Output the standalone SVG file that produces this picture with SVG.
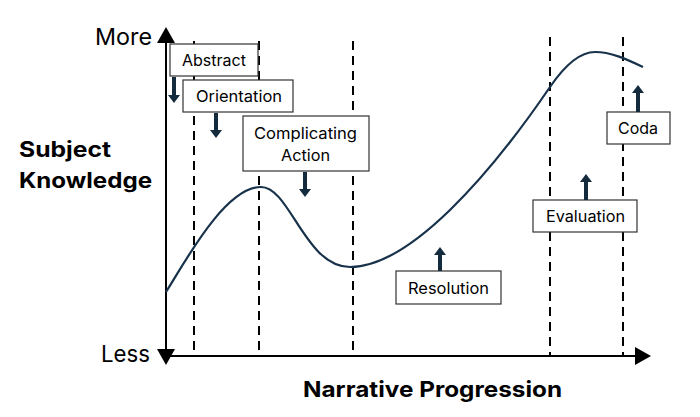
<svg xmlns="http://www.w3.org/2000/svg" width="700" height="417" viewBox="0 0 700 417">
<style>
.axis{stroke:#000;stroke-width:2;fill:none}
.dash{stroke:#000;stroke-width:2;stroke-dasharray:9,6;fill:none}
.curve{stroke:#17324a;stroke-width:2.2;fill:none}
.box{fill:#fff;stroke:#333;stroke-width:1.2}
.lbl{font-family:Inter,"Liberation Sans",Arial,sans-serif;font-size:16px;fill:#000;text-anchor:middle}
.ax{font-family:Inter,"Liberation Sans",Arial,sans-serif;font-size:23px;fill:#000;text-anchor:end}
.bold{font-family:Inter,"Liberation Sans",Arial,sans-serif;font-weight:bold;fill:#000}
.arr{fill:#142a3d}
</style>
<g id="axes">
<line class="axis" x1="166" y1="40" x2="166" y2="352"/>
<line class="axis" x1="166" y1="356" x2="638" y2="356"/>
<polygon points="166,27 157,43 175,43" fill="#000"/>
<polygon points="166,365 157,349 175,349" fill="#000"/>
<polygon points="651,356 635,347 635,365" fill="#000"/>
<text class="ax" x="152" y="45" textLength="57" lengthAdjust="spacingAndGlyphs">More</text>
<text class="ax" x="150" y="362" textLength="49" lengthAdjust="spacingAndGlyphs">Less</text>
<text class="bold" x="19" y="157" font-size="21" textLength="92" lengthAdjust="spacingAndGlyphs">Subject</text>
<text class="bold" x="19" y="188" font-size="21" textLength="133" lengthAdjust="spacingAndGlyphs">Knowledge</text>
<text class="bold" x="303" y="397" font-size="22" textLength="259" lengthAdjust="spacingAndGlyphs">Narrative Progression</text>
</g>
<g id="connectors">
<line class="dash" x1="194" y1="41" x2="194" y2="356"/>
<line class="dash" x1="259" y1="41" x2="259" y2="356"/>
<line class="dash" x1="353" y1="41" x2="353" y2="356"/>
<line class="dash" x1="550" y1="37" x2="550" y2="356"/>
<line class="dash" x1="623" y1="37" x2="623" y2="356"/>
<path class="curve" d="M166,292 C185,262 225,187 261,187 C290,187 305,267 350,267 C410,267 490,175 550,87 C565,65 580,52 595,52 C612,52 628,60 643,67"/>
</g>
<g id="abstract">
<rect class="box" x="170" y="44" width="88" height="32"/>
<text class="lbl" x="214" y="66" textLength="64" lengthAdjust="spacingAndGlyphs">Abstract</text>
<polygon class="arr" points="172,77 176,77 176,95 180,95 174,103 168,95 172,95"/>
</g>
<g id="orientation">
<rect class="box" x="183" y="80" width="110" height="32"/>
<text class="lbl" x="239" y="102" textLength="86" lengthAdjust="spacingAndGlyphs">Orientation</text>
<polygon class="arr" points="214,113 218,113 218,130 222,130 216,138 210,130 214,130"/>
</g>
<g id="complicating-action">
<rect class="box" x="243" y="116" width="126" height="55"/>
<text class="lbl" x="305.5" y="139" textLength="103" lengthAdjust="spacingAndGlyphs">Complicating</text>
<text class="lbl" x="305.5" y="161" textLength="49" lengthAdjust="spacingAndGlyphs">Action</text>
<polygon class="arr" points="303,172 307,172 307,189 311,189 305,197 299,189 303,189"/>
</g>
<g id="resolution">
<rect class="box" x="396" y="271" width="105" height="33"/>
<text class="lbl" x="448.5" y="294" textLength="81" lengthAdjust="spacingAndGlyphs">Resolution</text>
<polygon class="arr" points="438,271 442,271 442,255 446,255 440,247 434,255 438,255"/>
</g>
<g id="evaluation">
<rect class="box" x="533" y="200" width="104" height="32"/>
<text class="lbl" x="585.5" y="222" textLength="79" lengthAdjust="spacingAndGlyphs">Evaluation</text>
<polygon class="arr" points="584,200 588,200 588,182 592,182 586,174 580,182 584,182"/>
</g>
<g id="coda">
<rect class="box" x="607" y="112" width="63" height="32"/>
<text class="lbl" x="638" y="134" textLength="40" lengthAdjust="spacingAndGlyphs">Coda</text>
<polygon class="arr" points="636,112 640,112 640,93 644,93 638,85 632,93 636,93"/>
</g>
</svg>
